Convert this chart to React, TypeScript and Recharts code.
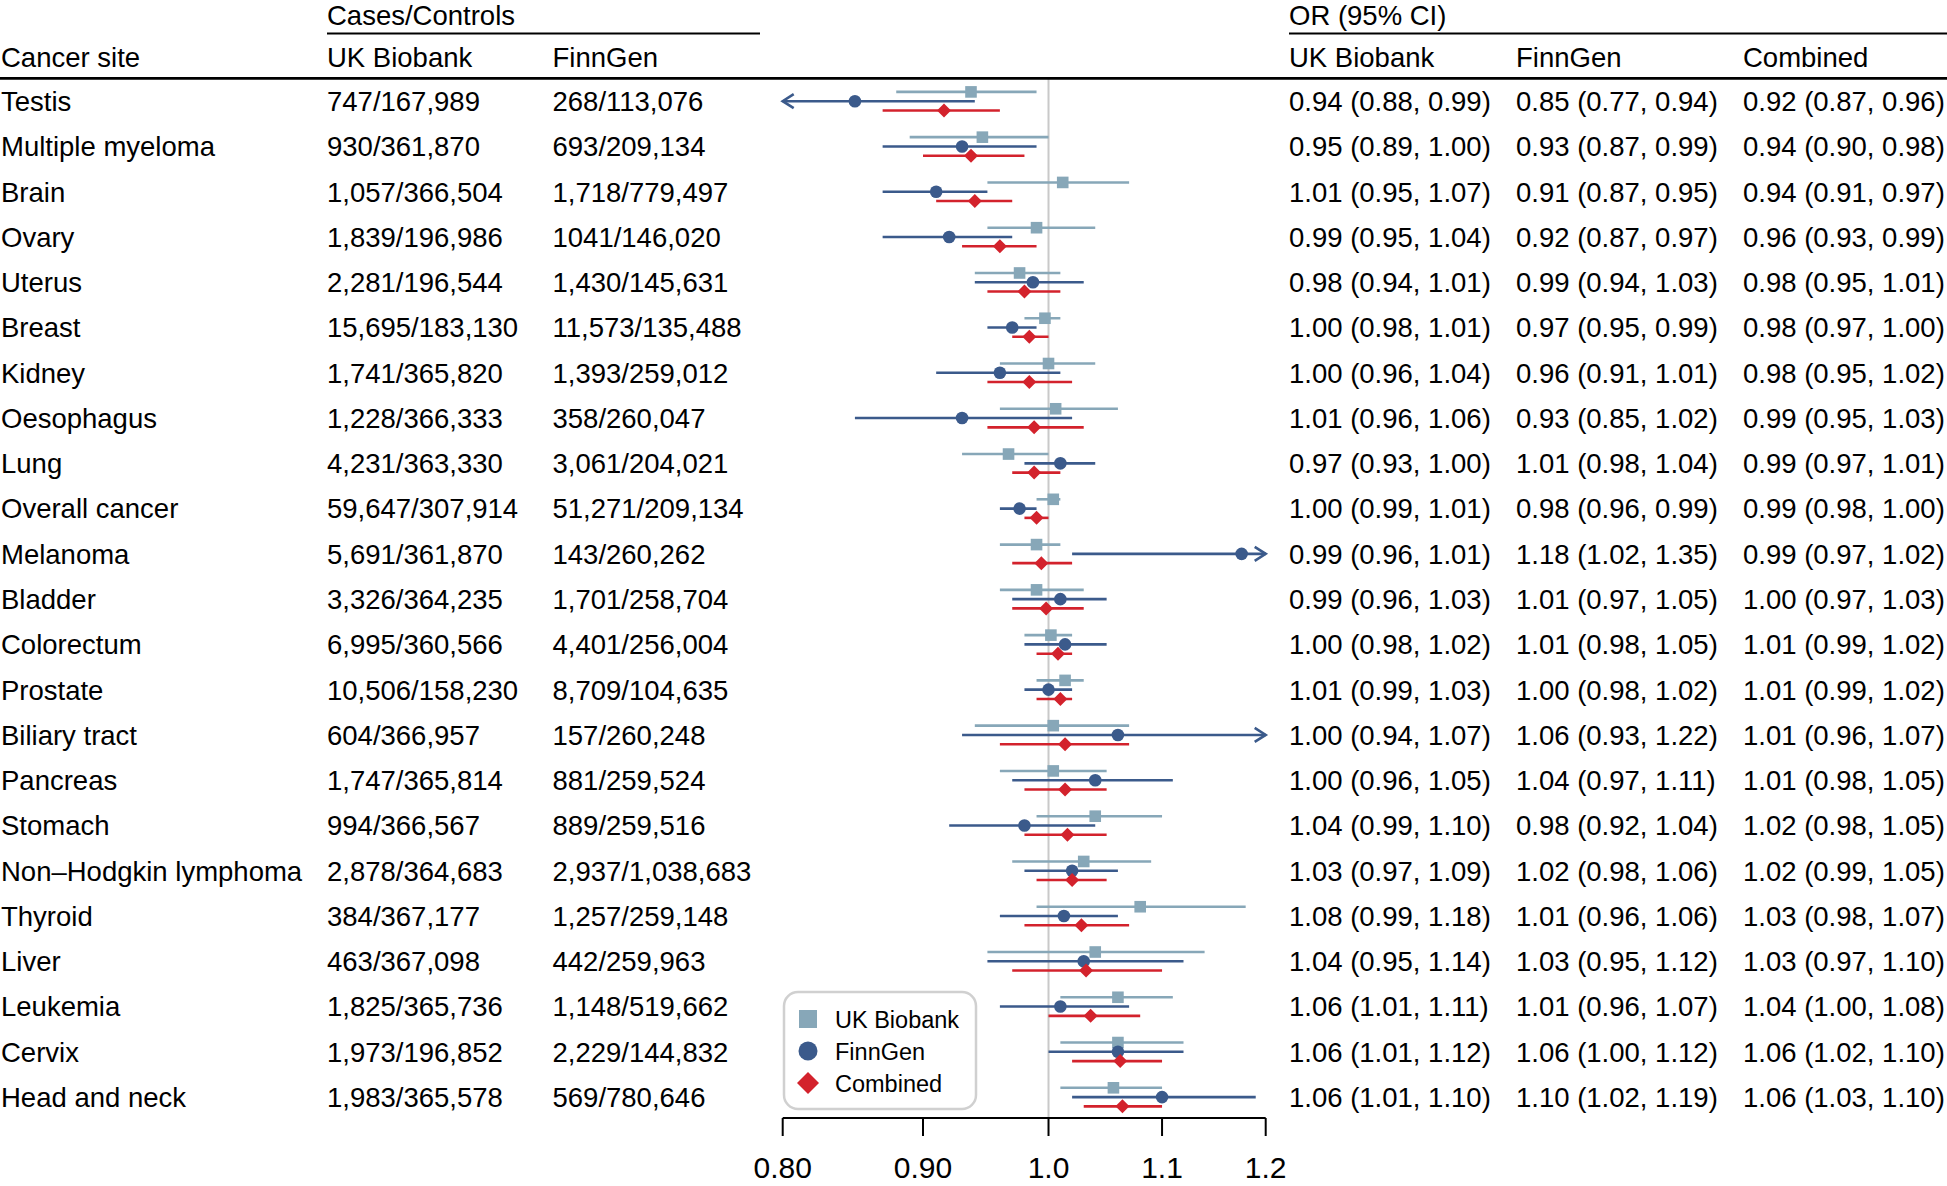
import React from "react";
import {
  ComposedChart,
  Scatter,
  XAxis,
  YAxis,
  ReferenceLine,
} from "recharts";

// ---------- data ----------
const sites = [
  "Testis", "Multiple myeloma", "Brain", "Ovary", "Uterus", "Breast", "Kidney",
  "Oesophagus", "Lung", "Overall cancer", "Melanoma", "Bladder", "Colorectum",
  "Prostate", "Biliary tract", "Pancreas", "Stomach", "Non\u2013Hodgkin lymphoma",
  "Thyroid", "Liver", "Leukemia", "Cervix", "Head and neck",
];
const ukCounts = [
  "747/167,989", "930/361,870", "1,057/366,504", "1,839/196,986", "2,281/196,544",
  "15,695/183,130", "1,741/365,820", "1,228/366,333", "4,231/363,330", "59,647/307,914",
  "5,691/361,870", "3,326/364,235", "6,995/360,566", "10,506/158,230", "604/366,957",
  "1,747/365,814", "994/366,567", "2,878/364,683", "384/367,177", "463/367,098",
  "1,825/365,736", "1,973/196,852", "1,983/365,578",
];
const fgCounts = [
  "268/113,076", "693/209,134", "1,718/779,497", "1041/146,020", "1,430/145,631",
  "11,573/135,488", "1,393/259,012", "358/260,047", "3,061/204,021", "51,271/209,134",
  "143/260,262", "1,701/258,704", "4,401/256,004", "8,709/104,635", "157/260,248",
  "881/259,524", "889/259,516", "2,937/1,038,683", "1,257/259,148", "442/259,963",
  "1,148/519,662", "2,229/144,832", "569/780,646",
];
const ukOR = [0.937, 0.946, 1.012, 0.99, 0.976, 0.997, 1.0, 1.006, 0.967, 1.004, 0.99, 0.99, 1.002, 1.014, 1.004, 1.004, 1.04, 1.03, 1.08, 1.04, 1.06, 1.06, 1.056];
const ukLo = [0.88, 0.89, 0.95, 0.95, 0.94, 0.98, 0.96, 0.96, 0.93, 0.99, 0.96, 0.96, 0.98, 0.99, 0.94, 0.96, 0.99, 0.97, 0.99, 0.95, 1.01, 1.01, 1.01];
const ukHi = [0.99, 1.0, 1.07, 1.04, 1.01, 1.01, 1.04, 1.06, 1.0, 1.01, 1.01, 1.03, 1.02, 1.03, 1.07, 1.05, 1.1, 1.09, 1.18, 1.14, 1.11, 1.12, 1.1];
const fgOR = [0.85, 0.93, 0.91, 0.92, 0.987, 0.97, 0.96, 0.93, 1.01, 0.976, 1.176, 1.01, 1.014, 1.0, 1.06, 1.04, 0.98, 1.02, 1.013, 1.03, 1.01, 1.06, 1.1];
const fgLo = [0.77, 0.87, 0.87, 0.87, 0.94, 0.95, 0.91, 0.85, 0.98, 0.96, 1.02, 0.97, 0.98, 0.98, 0.93, 0.97, 0.92, 0.98, 0.96, 0.95, 0.96, 1.0, 1.02];
const fgHi = [0.94, 0.99, 0.95, 0.97, 1.03, 0.99, 1.01, 1.02, 1.04, 0.99, 1.35, 1.05, 1.05, 1.02, 1.22, 1.11, 1.04, 1.06, 1.06, 1.12, 1.07, 1.12, 1.19];
const cbOR = [0.916, 0.937, 0.94, 0.96, 0.98, 0.984, 0.984, 0.988, 0.988, 0.99, 0.994, 0.998, 1.008, 1.01, 1.014, 1.014, 1.016, 1.02, 1.028, 1.032, 1.036, 1.062, 1.064];
const cbLo = [0.87, 0.9, 0.91, 0.93, 0.95, 0.97, 0.95, 0.95, 0.97, 0.98, 0.97, 0.97, 0.99, 0.99, 0.96, 0.98, 0.98, 0.99, 0.98, 0.97, 1.0, 1.02, 1.03];
const cbHi = [0.96, 0.98, 0.97, 0.99, 1.01, 1.0, 1.02, 1.03, 1.01, 1.0, 1.02, 1.03, 1.02, 1.02, 1.07, 1.05, 1.05, 1.05, 1.07, 1.1, 1.08, 1.1, 1.1];

const xTicks = [0.8, 0.9, 1.0, 1.1, 1.2];
const xTickLabels = ["0.80", "0.90", "1.0", "1.1", "1.2"];
const seriesNames = ["UK Biobank", "FinnGen", "Combined"];

// ---------- styling ----------
const W = 1947;
const H = 1186;
const FONT = "'Liberation Sans', Arial, Helvetica, sans-serif";
const FS = 27.5;
const COLORS = ["#87a7b8", "#3b5a8b", "#d3222c"];
const ROW_OFFSET = [-0.205, 0, 0.205];
const X_MIN = 0.8;
const X_MAX = 1.2;
const Y_DOMAIN: [number, number] = [-0.512, 22.462];
const rowIdx = sites.map((_, i) => i);

const fmt = (v: number) => v.toFixed(2);
const orText = (o: number[], l: number[], h: number[], i: number) =>
  `${fmt(o[i])} (${fmt(l[i])}, ${fmt(h[i])})`;

const series = [
  { or: ukOR, lo: ukLo, hi: ukHi },
  { or: fgOR, lo: fgLo, hi: fgHi },
  { or: cbOR, lo: cbLo, hi: cbHi },
].map((s, k) => ({
  ...s,
  name: seriesNames[k],
  color: COLORS[k],
  points: s.or.map((v, i) => ({ x: v, y: i + ROW_OFFSET[k] })),
  segs: s.or.map((_, i) => ({
    lo: Math.max(s.lo[i], X_MIN),
    hi: Math.min(s.hi[i], X_MAX),
    arrowL: s.lo[i] < X_MIN,
    arrowR: s.hi[i] > X_MAX,
    y: i + ROW_OFFSET[k],
  })),
}));

const ciShape = (color: string, arrowL: boolean, arrowR: boolean) => (p: any) => {
  const { x1, y1, x2, y2 } = p;
  const a = 11;
  const b = 7;
  return (
    <g>
      <line x1={x1} y1={y1} x2={x2} y2={y2} stroke={color} strokeWidth={2.6} />
      {arrowL && (
        <polyline
          points={`${x1 + a},${y1 - b} ${x1},${y1} ${x1 + a},${y1 + b}`}
          fill="none"
          stroke={color}
          strokeWidth={2.6}
        />
      )}
      {arrowR && (
        <polyline
          points={`${x2 - a},${y2 - b} ${x2},${y2} ${x2 - a},${y2 + b}`}
          fill="none"
          stroke={color}
          strokeWidth={2.6}
        />
      )}
    </g>
  );
};

const SquareShape = (p: any) => (
  <rect x={p.cx - 5.8} y={p.cy - 5.8} width={11.6} height={11.6} fill={COLORS[0]} />
);
const CircleShape = (p: any) => <circle cx={p.cx} cy={p.cy} r={6.3} fill={COLORS[1]} />;
const DiamondShape = (p: any) => (
  <polygon
    points={`${p.cx},${p.cy - 7} ${p.cx + 7},${p.cy} ${p.cx},${p.cy + 7} ${p.cx - 7},${p.cy}`}
    fill={COLORS[2]}
  />
);
const shapes = [SquareShape, CircleShape, DiamondShape];

const LeftTick = (p: any) => {
  const i = p.payload.value;
  const y = p.y + FS * 0.358;
  return (
    <g fontFamily={FONT} fontSize={FS} fill="#000">
      <text x={1} y={y} fill="#000">{sites[i]}</text>
      <text x={327} y={y} fill="#000">{ukCounts[i]}</text>
      <text x={552.5} y={y} fill="#000">{fgCounts[i]}</text>
    </g>
  );
};

const RightTick = (p: any) => {
  const i = p.payload.value;
  const y = p.y + FS * 0.358;
  return (
    <g fontFamily={FONT} fontSize={FS} fill="#000">
      <text x={1289} y={y} fill="#000">{orText(ukOR, ukLo, ukHi, i)}</text>
      <text x={1516} y={y} fill="#000">{orText(fgOR, fgLo, fgHi, i)}</text>
      <text x={1743} y={y} fill="#000">{orText(cbOR, cbLo, cbHi, i)}</text>
    </g>
  );
};

const XTick = (p: any) => {
  const idx = xTicks.findIndex((t) => Math.abs(t - p.payload.value) < 1e-9);
  return (
    <text
      x={p.x}
      y={p.y + 42}
      textAnchor="middle"
      fontFamily={FONT}
      fontSize={30}
      fill="#000"
    >
      {xTickLabels[idx]}
    </text>
  );
};

const Overlay = () => (
  <svg
    width={W}
    height={H}
    style={{ position: "absolute", left: 0, top: 0, pointerEvents: "none" }}
    fontFamily={FONT}
    fontSize={FS}
  >
    <text x={327} y={25} fill="#000">Cases/Controls</text>
    <text x={1289} y={25} fill="#000">OR (95% CI)</text>
    <line x1={327} y1={33.5} x2={760} y2={33.5} stroke="#000" strokeWidth={2} />
    <line x1={1289} y1={33.5} x2={W} y2={33.5} stroke="#000" strokeWidth={2} />
    <text x={1} y={67} fill="#000">Cancer site</text>
    <text x={327} y={67} fill="#000">UK Biobank</text>
    <text x={552.5} y={67} fill="#000">FinnGen</text>
    <text x={1289} y={67} fill="#000">UK Biobank</text>
    <text x={1516} y={67} fill="#000">FinnGen</text>
    <text x={1743} y={67} fill="#000">Combined</text>
    <line x1={0} y1={78.3} x2={W} y2={78.3} stroke="#000" strokeWidth={2.8} />
    {/* legend */}
    <rect x={784} y={992} width={192} height={117} rx={14} ry={14} fill="#fff" stroke="#d0d0d0" strokeWidth={2.5} />
    <rect x={799} y={1010} width={18} height={18} fill={COLORS[0]} />
    <circle cx={808} cy={1051} r={9.5} fill={COLORS[1]} />
    <polygon points="808,1072 819,1083 808,1094 797,1083" fill={COLORS[2]} />
    <g fontSize={23.5} fill="#000">
      <text x={835} y={1027.5}>{seriesNames[0]}</text>
      <text x={835} y={1059.5}>{seriesNames[1]}</text>
      <text x={835} y={1091.5}>{seriesNames[2]}</text>
    </g>
  </svg>
);

export default function App() {
  return (
    <div style={{ position: "absolute", left: 0, top: 0, width: W, height: H, background: "#fff" }}>
      <ComposedChart
        width={W}
        height={H}
        margin={{ top: 78, right: 0, bottom: 0, left: 0 }}
      >
        <XAxis
          dataKey="x"
          type="number"
          scale="log"
          domain={[X_MIN, X_MAX]}
          allowDataOverflow
          ticks={xTicks}
          interval={0}
          height={68}
          tickSize={18}
          tickMargin={0}
          tickLine={{ stroke: "#000", strokeWidth: 2 }}
          axisLine={{ stroke: "#000", strokeWidth: 2 }}
          tick={XTick}
        />
        <YAxis
          yAxisId="left"
          dataKey="y"
          type="number"
          domain={Y_DOMAIN}
          allowDataOverflow
          reversed
          ticks={rowIdx}
          interval={0}
          width={782.7}
          axisLine={false}
          tickLine={false}
          tick={LeftTick}
        />
        <YAxis
          yAxisId="right"
          orientation="right"
          type="number"
          domain={Y_DOMAIN}
          allowDataOverflow
          reversed
          ticks={rowIdx}
          interval={0}
          width={681.3}
          axisLine={false}
          tickLine={false}
          tick={RightTick}
        />
        <ReferenceLine yAxisId="left" x={1} stroke="#c9c9c9" strokeWidth={2} ifOverflow="visible" />
        {series.map((s, k) =>
          s.segs.map((g, i) => (
            <ReferenceLine
              key={`ci-${k}-${i}`}
              yAxisId="left"
              ifOverflow="visible"
              segment={[
                { x: g.lo, y: g.y },
                { x: g.hi, y: g.y },
              ]}
              shape={ciShape(s.color, g.arrowL, g.arrowR)}
            />
          ))
        )}
        {series.map((s, k) => (
          <Scatter
            key={`pts-${k}`}
            yAxisId="left"
            name={s.name}
            data={s.points}
            fill={s.color}
            shape={shapes[k]}
            isAnimationActive={false}
          />
        ))}
      </ComposedChart>
      <Overlay />
    </div>
  );
}
